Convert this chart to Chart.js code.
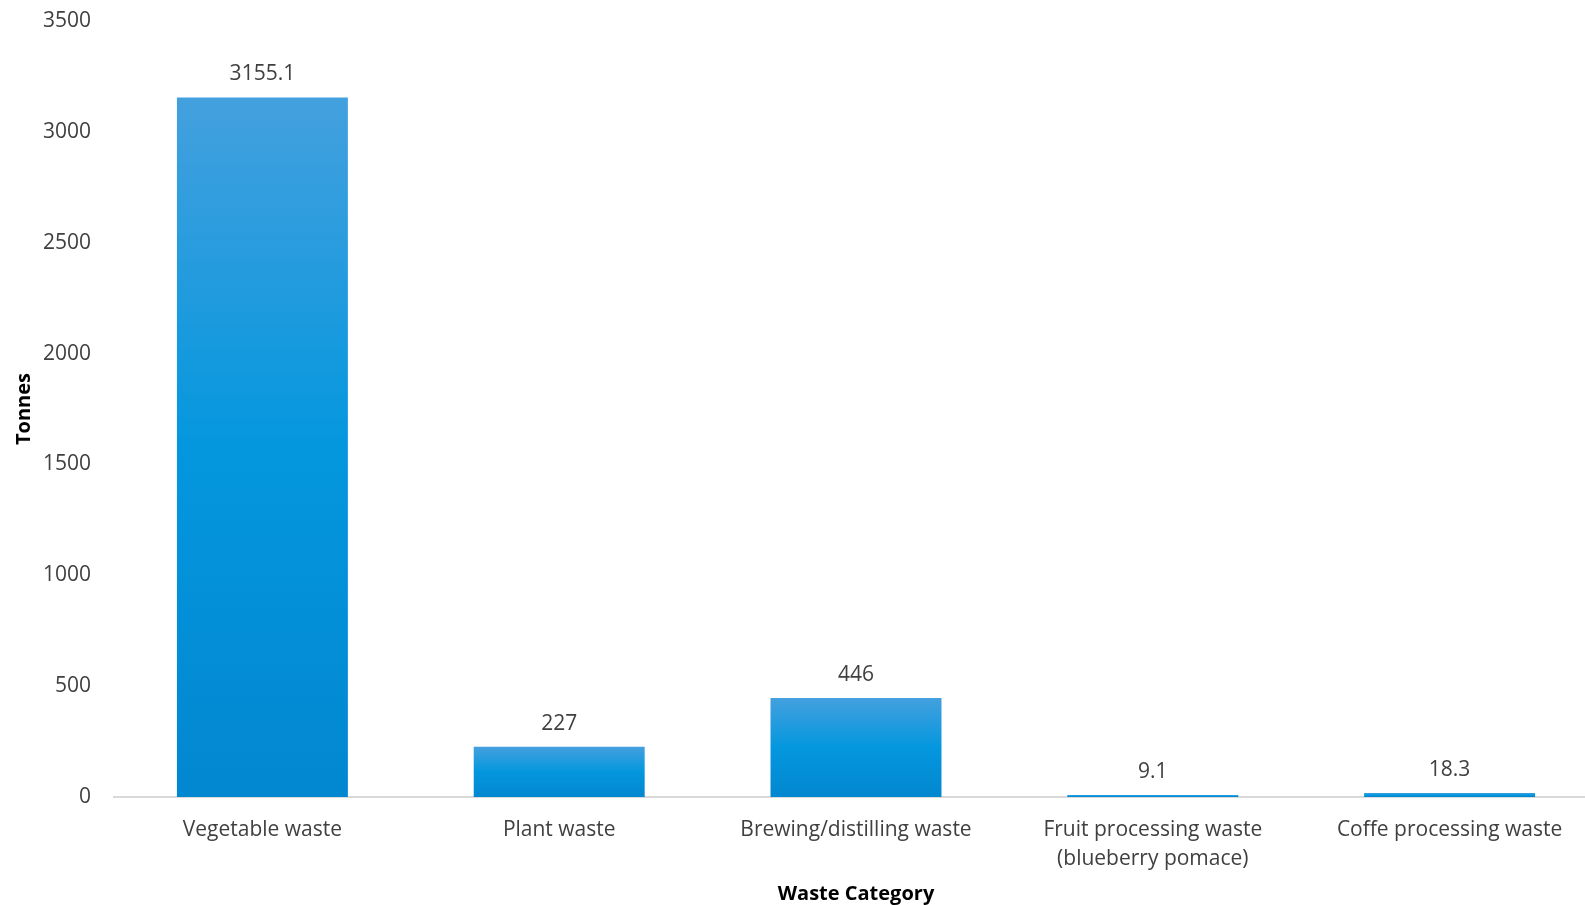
<!DOCTYPE html>
<html>
<head>
<meta charset="utf-8">
<script src="https://cdn.jsdelivr.net/npm/chart.js@4/dist/chart.umd.min.js"></script>
<style>
  html,body{margin:0;padding:0;background:#fff;overflow:hidden}
  /* the original is cropped on the right: the plot runs a bit past the window */
  #wrap{width:1598px;height:905px}
</style>
</head>
<body>
<div id="wrap"><canvas id="c"></canvas></div>
<script>
const categories = ['Vegetable waste','Plant waste','Brewing/distilling waste',['Fruit processing waste','(blueberry pomace)'],'Coffe processing waste'];
const tonnes = [3155.1, 227, 446, 9.1, 18.3];
const valueLabels = ['3155.1','227','446','9.1','18.3'];

const FONT = "'Open Sans', sans-serif";

// per-bar vertical gradient (scriptable so each bar gets its own)
function barFill(c){
  const chart = c.chart, ys = chart.scales.y;
  if (!ys || c.dataIndex === undefined) return '#0497de';
  const top = ys.getPixelForValue(tonnes[c.dataIndex]);
  const bot = ys.getPixelForValue(0);
  if (!isFinite(top) || !isFinite(bot)) return '#0497de';
  const g = chart.ctx.createLinearGradient(0, top, 0, bot + 0.01);
  g.addColorStop(0, '#44a0de');
  g.addColorStop(0.5, '#0497de');
  g.addColorStop(1, '#0287d0');
  return g;
}

const valueText = {
  id:'valueText',
  afterDatasetsDraw(chart){
    const ctx = chart.ctx;
    ctx.save();
    ctx.font = "21px " + FONT;
    ctx.fillStyle = '#404040';
    ctx.textAlign = 'center';
    ctx.textBaseline = 'middle';
    chart.getDatasetMeta(0).data.forEach((bar,i)=>{
      ctx.fillText(valueLabels[i], bar.x, bar.y - 23);
    });
    ctx.restore();
  }
};

new Chart(document.getElementById('c'),{
  type:'bar',
  data:{labels:categories,datasets:[{label:'Tonnes',data:tonnes,categoryPercentage:1,barPercentage:0.576,backgroundColor:barFill}]},
  options:{
    responsive:true, maintainAspectRatio:false, animation:false,
    layout:{padding:0},
    plugins:{legend:{display:false},tooltip:{enabled:false}},
    scales:{
      x:{
        grid:{display:false,drawTicks:false},
        border:{color:'#d9d9d9',width:2},
        ticks:{color:'#404040',font:{family:FONT,size:21,lineHeight:1.38},padding:19,maxRotation:0,autoSkip:false},
        title:{display:true,text:'Waste Category',color:'#000',font:{family:FONT,size:20,weight:'bold'},padding:{top:0,bottom:-1}},
        afterFit(s){ s.height = 108; s.paddingLeft = 0; s.paddingRight = 0; }
      },
      y:{
        min:0,max:3500,
        grid:{display:false,drawTicks:false},
        border:{display:false},
        ticks:{stepSize:500,color:'#404040',font:{family:FONT,size:21},padding:23,callback:v=>String(v)},
        title:{display:true,text:'Tonnes',color:'#000',font:{family:FONT,size:20,weight:'bold'},padding:{top:12,bottom:0}},
        afterFit(s){ s.width = 114; s.paddingTop = 21; s.paddingBottom = 0; }
      }
    }
  },
  plugins:[valueText]
});
</script>
</body>
</html>
